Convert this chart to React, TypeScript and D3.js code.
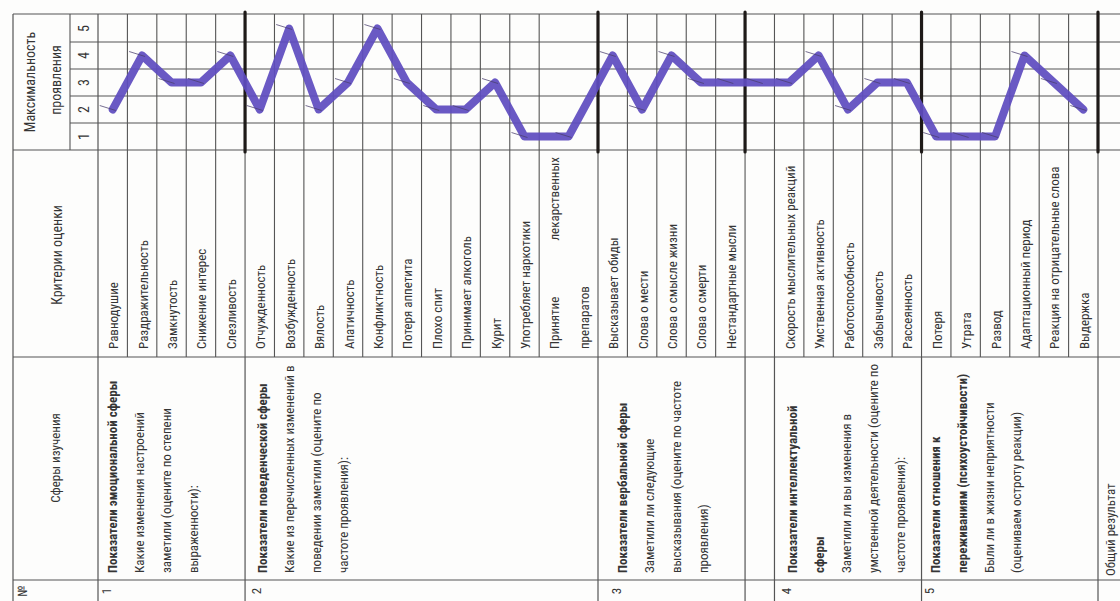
import React from 'react';
import * as d3 from 'd3';

// scale of the "Максимальность проявления" block
const scaleTicks = [1, 2, 3, 4, 5];

// criteria and marked levels, by sphere
const emotional = ['Равнодушие', 'Раздражительность', 'Замкнутость', 'Снижение интерес', 'Слезливость'];
const emotionalValues = [2, 4, 3, 3, 4];

const behavioral = [
  'Отчужденность', 'Возбужденность', 'Вялость', 'Апатичность', 'Конфликтность',
  'Потеря аппетита', 'Плохо спит', 'Принимает алкоголь', 'Курит', 'Употребляет наркотики',
  'Принятие лекарственных препаратов',
];
const behavioralValues = [2, 5, 2, 3, 5, 3, 2, 2, 3, 1, 1];

const verbal = ['Высказывает обиды', 'Слова о мести', 'Слова о смысле жизни', 'Слова о смерти', 'Нестандартные мысли'];
const verbalValues = [4, 2, 4, 3, 3];

const intellectual = ['', 'Скорость мыслительных реакций', 'Умственная активность', 'Работоспособность', 'Забывчивость', 'Рассеянность'];
const intellectualValues = [3, 3, 4, 2, 3, 3];

const experience = ['Потеря', 'Утрата', 'Развод', 'Адаптационный период', 'Реакция на отрицательные слова', 'Выдержка'];
const experienceValues = [1, 1, 1, 4, 3, 2];

// sphere descriptions (line by line, bold first lines)
const sphereNumbers = ['1', '2', '3', '4', '5'];
const sphereTitles = [
  ['Показатели эмоциональной сферы'],
  ['Показатели поведенческой сферы'],
  ['Показатели вербальной сферы'],
  ['Показатели интеллектуальной', 'сферы'],
  ['Показатели  отношения к', 'переживаниям (психоустойчивости)'],
];
const sphereNotes = [
  ['Какие изменения настроений', 'заметили (оцените по степени', 'выраженности):'],
  ['Какие из перечисленных изменений в', 'поведении заметили (оцените по', 'частоте проявления):'],
  ['Заметили ли следующие', 'высказывания (оцените по частоте', 'проявления)'],
  ['Заметили ли вы изменения в', 'умственной деятельности (оцените по', 'частоте проявления):'],
  ['Были ли в жизни неприятности', '(оцениваем остроту реакции)'],
];

const groups = [
  { labels: emotional, values: emotionalValues },
  { labels: behavioral, values: behavioralValues },
  { labels: verbal, values: verbalValues },
  { labels: intellectual, values: intellectualValues },
  { labels: experience, values: experienceValues },
];

// layout
const W = 1120;
const H = 601;
const LEFT = 13;
const HEAD_SPLIT = 70;
const GRID_X0 = 98;
const GRID_X1 = 1098;
const TOP = 14;
const SCALE_BOTTOM = 150;
const CRIT_BOTTOM = 357;
const SPHERE_BOTTOM = 580;
const WIDE = 'Принятие лекарственных препаратов';
const sphereOffsets = [14, 17, 24, 18, 14];
const LINE_STEP = 27;

const FONT = "'Liberation Sans Narrow', 'Roboto Condensed', 'DejaVu Sans Condensed', sans-serif";
const INK = '#353535';
const GRID = '#555';
const PEN = '#5f4cc0';

interface Col {
  label: string;
  value: number;
  group: number;
  u0: number;
  u1: number;
}

const cols: Col[] = [];
let acc = 0;
groups.forEach((g, gi) => {
  g.labels.forEach((label, i) => {
    const span = label === WIDE ? 2 : 1;
    cols.push({ label, value: g.values[i], group: gi, u0: acc, u1: acc + span });
    acc += span;
  });
});

const x = d3.scaleLinear().domain([0, acc]).range([GRID_X0, GRID_X1]);
const y = d3.scaleLinear().domain([0.5, 5.5]).range([SCALE_BOTTOM, TOP + 1]);

const Vtext: React.FC<{ x: number; y: number; anchor?: string; size?: number; weight?: number | string; children: React.ReactNode }> = ({
  x: tx, y: ty, anchor = 'start', size = 13, weight = 400, children,
}) => (
  <text
    transform={`translate(${tx},${ty}) rotate(-90)`}
    textAnchor={anchor}
    dominantBaseline="central"
    fontSize={size}
    fontWeight={weight}
    fill={INK}
    fontFamily={FONT}
  >
    {children}
  </text>
);

export default function App() {
  const cx = (c: Col) => x((c.u0 + c.u1) / 2);
  const line = d3.line<Col>().x(cx).y(c => y(c.value));

  const groupStart = (gi: number) => {
    const c = cols.filter(d => d.group === gi);
    return x(c[0].u0);
  };
  const groupEnds = groups.map((_, gi) => {
    const c = cols.filter(d => d.group === gi);
    return x(c[c.length - 1].u1);
  });

  return (
    <svg
      width={W}
      height={H}
      style={{ position: 'absolute', left: 0, top: 0, background: '#fff' }}
    >
      <rect x={0} y={0} width={W} height={H} fill="#fdfdfc" />

      {/* horizontal rules */}
      {[TOP, SCALE_BOTTOM, CRIT_BOTTOM, SPHERE_BOTTOM].map(v => (
        <line key={v} x1={LEFT} x2={W} y1={v} y2={v} stroke={GRID} strokeWidth={1.2} />
      ))}
      {[1.5, 2.5, 3.5, 4.5].map(v => (
        <line key={v} x1={HEAD_SPLIT} x2={W} y1={y(v)} y2={y(v)} stroke={GRID} strokeWidth={1.1} />
      ))}

      {/* outer left / header verticals */}
      <line x1={LEFT} x2={LEFT} y1={TOP} y2={H} stroke={GRID} strokeWidth={1.2} />
      <line x1={HEAD_SPLIT} x2={HEAD_SPLIT} y1={TOP} y2={SCALE_BOTTOM} stroke={GRID} strokeWidth={1.1} />
      <line x1={GRID_X0} x2={GRID_X0} y1={TOP} y2={H} stroke={GRID} strokeWidth={1.2} />

      {/* criterion column lines */}
      {cols.map((c, i) => (
        <line key={i} x1={x(c.u1)} x2={x(c.u1)} y1={TOP} y2={CRIT_BOTTOM} stroke={GRID} strokeWidth={1.1} />
      ))}

      {/* sphere verticals through the lower part */}
      {groupEnds.map((gx, i) => (
        <line key={i} x1={gx} x2={gx} y1={CRIT_BOTTOM} y2={H} stroke={GRID} strokeWidth={1.2} />
      ))}
      {cols.filter(c => c.label === '').map((c, i) => (
        <line key={i} x1={x(c.u1)} x2={x(c.u1)} y1={CRIT_BOTTOM} y2={H} stroke={GRID} strokeWidth={1.2} />
      ))}

      {/* thick group separators in the scale block */}
      {groupEnds.map((gx, i) => (
        <line key={i} x1={gx} x2={gx} y1={TOP - 2} y2={SCALE_BOTTOM + 2} stroke="#1e1a18" strokeWidth={3.2} strokeLinecap="round" />
      ))}

      {/* header texts */}
      <Vtext x={30} y={82} anchor="middle" size={14}>Максимальность</Vtext>
      <Vtext x={56} y={80} anchor="middle" size={14}>проявления</Vtext>
      {scaleTicks.map(t => (
        <Vtext key={t} x={84} y={y(t)} anchor="middle" size={14}>{t}</Vtext>
      ))}
      <Vtext x={57} y={255} anchor="middle" size={14}>Критерии оценки</Vtext>
      <Vtext x={55} y={458} anchor="middle" size={13}>Сферы изучения</Vtext>
      <Vtext x={22} y={591} anchor="middle" size={13}>№</Vtext>

      {/* criteria labels */}
      {cols.map((c, i) => {
        if (c.label === WIDE) {
          const left = x(c.u0);
          return (
            <g key={i}>
              <Vtext x={left + 15} y={CRIT_BOTTOM - 8}>Принятие</Vtext>
              <Vtext x={left + 15} y={TOP + 143} anchor="end">лекарственных</Vtext>
              <Vtext x={left + 45} y={CRIT_BOTTOM - 8}>препаратов</Vtext>
            </g>
          );
        }
        return (
          <Vtext key={i} x={cx(c) + 1} y={CRIT_BOTTOM - 8}>{c.label}</Vtext>
        );
      })}

      {/* sphere descriptions */}
      {sphereTitles.map((titles, gi) => {
        const emptyFirst = groups[gi].labels[0] === '';
        const start = emptyFirst ? x(cols.filter(d => d.group === gi)[0].u1) : groupStart(gi);
        const lx = (k: number) => start + sphereOffsets[gi] + k * LINE_STEP;
        const notes = sphereNotes[gi];
        return (
          <g key={gi}>
            {titles.map((t, k) => (
              <Vtext key={`t${k}`} x={lx(k)} y={SPHERE_BOTTOM - 7} weight={700}>{t}</Vtext>
            ))}
            {notes.map((t, k) => (
              <Vtext key={`n${k}`} x={lx(titles.length + k)} y={SPHERE_BOTTOM - 7}>{t}</Vtext>
            ))}
            <Vtext x={lx(0) - 6} y={591} anchor="middle">{sphereNumbers[gi]}</Vtext>
          </g>
        );
      })}
      <Vtext x={GRID_X1 + 12} y={SPHERE_BOTTOM - 4} size={13}>Общий результат</Vtext>

      {/* hand-drawn profile */}
      <path
        d={line(cols) ?? ''}
        fill="none"
        stroke={PEN}
        strokeWidth={8}
        strokeLinejoin="round"
        strokeLinecap="round"
        opacity={0.93}
      />
      {cols.map((c, i) => (
        <line
          key={i}
          x1={cx(c) - 13}
          y1={y(c.value) - 4}
          x2={cx(c) + 3}
          y2={y(c.value) + 1}
          stroke="#4a3f6e"
          strokeWidth={1}
          opacity={0.75}
        />
      ))}
    </svg>
  );
}
